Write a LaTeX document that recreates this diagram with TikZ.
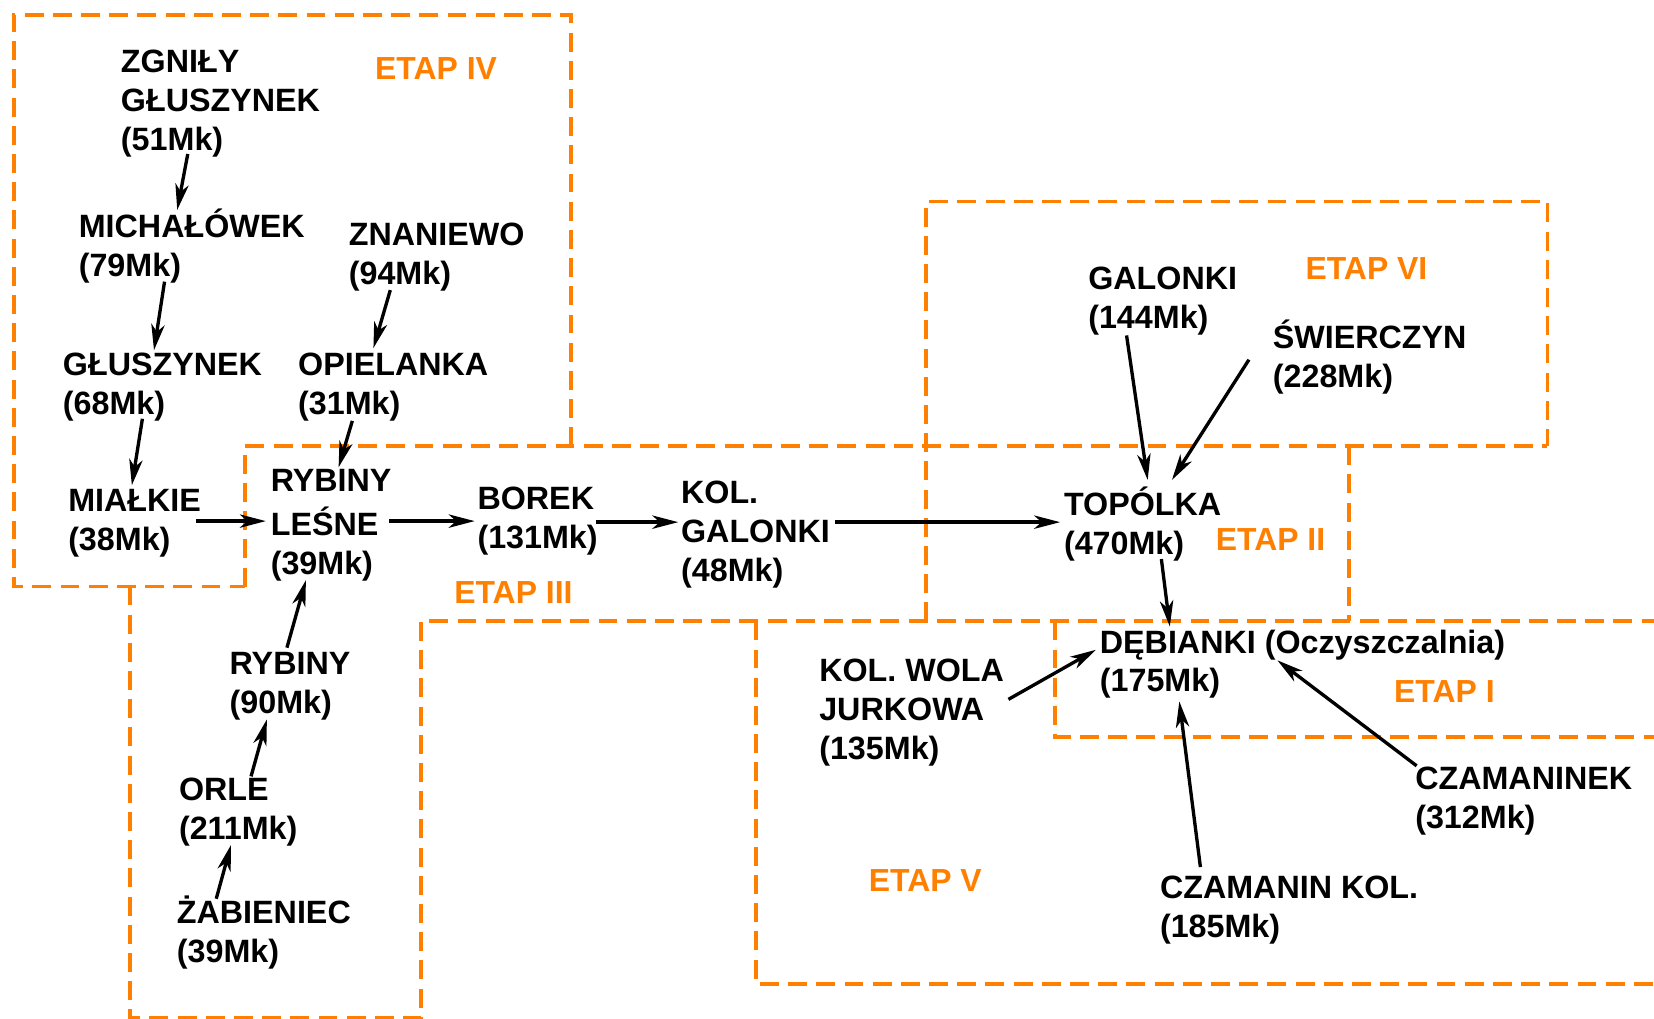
\documentclass[tikz,border=0pt]{standalone}
\usepackage{fontspec}
\setmainfont{Liberation Sans}
\usepackage{xcolor}
\usepackage{tikz}
\usetikzlibrary{calc}
\usetikzlibrary{arrows.meta}
\definecolor{etaporange}{RGB}{255,128,0}

\begin{document}
\begin{tikzpicture}[x=0.01cm, y=-0.01cm]
            \tikzset{etap/.style = {etaporange, line width=1pt, dash pattern=on 5.1pt off 2.5pt}}
            \tikzset{etaplabel/.style = {etaporange, anchor=base west, inner sep=0pt, font=\fontsize{8.6pt}{10.5pt}\selectfont\bfseries}}
            \tikzset{place/.style = {anchor=base west, align=left, inner sep=0pt, font=\fontsize{8.7pt}{10.5pt}\selectfont\bfseries}}
            \tikzset{flow/.style = {line width=0.9pt, -{Stealth[length=7pt, width=3.6pt, inset=2pt]}}}

            \useasboundingbox (0,0) rectangle (1568,966);

            % stage borders
            \draw[etap] (541,423) -- (541,14) -- (13,14) -- (13,556) -- (232,556);
            \draw[etap] (232,556) -- (232,423) -- (1467,423);
            \draw[etap] (123,556) -- (123,965) -- (399,965) -- (399,589) -- (1568,589);
            \draw[etap] (878,589) -- (878,191) -- (1467,191) -- (1467,423);
            \draw[etap] (1279,423) -- (1279,589);
            \draw[etap] (717,589) -- (717,933) -- (1568,933);
            \draw[etap] (1000,589) -- (1000,699) -- (1568,699);

            \node[etaplabel] (etapIV) at (355,75) {ETAP IV};
            \node[etaplabel] (etapIII) at (430,572) {ETAP III};
            \node[etaplabel] (etapVI) at (1237,265) {ETAP VI};
            \node[etaplabel] (etapII) at (1152,522) {ETAP II};
            \node[etaplabel] (etapI) at (1321,666) {ETAP I};
            \node[etaplabel] (etapV) at (823,845) {ETAP V};

            % places (anchored at the last line)
            \node[place] (zgnily) at (114,143) {ZGNIŁY\\GŁUSZYNEK\\(51Mk)};
            \node[place] (michalowek) at (74,262) {MICHAŁÓWEK\\(79Mk)};
            \node[place] (znaniewo) at (330,270) {ZNANIEWO\\(94Mk)};
            \node[place] (gluszynek) at (59,393) {GŁUSZYNEK\\(68Mk)};
            \node[place] (opielanka) at (282,393) {OPIELANKA\\(31Mk)};
            \node[place] (mialkie) at (64,522) {MIAŁKIE\\(38Mk)};
            \node[place] (rybinyl) at (256,545) {RYBINY\\[1.5pt]LEŚNE\\(39Mk)};
            \node[place] (borek) at (452,520) {BOREK\\(131Mk)};
            \node[place] (kolgalonki) at (645,551) {KOL.\\GALONKI\\(48Mk)};
            \node[place] (rybiny) at (217,676) {RYBINY\\(90Mk)};
            \node[place] (orle) at (169,796) {ORLE\\(211Mk)};
            \node[place] (zabieniec) at (167,912) {ŻABIENIEC\\(39Mk)};
            \node[place] (galonki) at (1031,311) {GALONKI\\(144Mk)};
            \node[place] (swierczyn) at (1206,367) {ŚWIERCZYN\\(228Mk)};
            \node[place] (topolka) at (1008,526) {TOPÓLKA\\(470Mk)};
            \node[place] (debianki) at (1042,656) {DĘBIANKI (Oczyszczalnia)\\(175Mk)};
            \node[place] (kolwola) at (776,720) {KOL. WOLA\\JURKOWA\\(135Mk)};
            \node[place] (czamaninek) at (1341,785) {CZAMANINEK\\(312Mk)};
            \node[place] (czamaninkol) at (1099,889) {CZAMANIN KOL.\\(185Mk)};

            % flows
            \draw[flow] ($ (zgnily.base west) + (64,3) $) -- ($ (michalowek.base west) + (94,-63) $);
            \draw[flow] ($ (michalowek.base west) + (82,5) $) -- ($ (gluszynek.base west) + (87,-61) $);
            \draw[flow] ($ (gluszynek.base west) + (76,4) $) -- ($ (mialkie.base west) + (61,-62) $);
            \draw[flow] ($ (znaniewo.base west) + (40,5) $) -- ($ (opielanka.base west) + (72,-63) $);
            \draw[flow] ($ (opielanka.base west) + (52,6) $) -- ($ (rybinyl.base west) + (65,-102) $);
            \draw[flow] ($ (mialkie.base west) + (122,-28) $) -- ($ (rybinyl.base west) + (-4,-51) $);
            \draw[flow] ($ (rybinyl.base west) + (113,-51) $) -- ($ (borek.base west) + (-2,-26) $);
            \draw[flow] ($ (borek.base west) + (113,-25) $) -- ($ (kolgalonki.base west) + (-2,-56) $);
            \draw[flow] ($ (kolgalonki.base west) + (147,-56) $) -- ($ (topolka.base west) + (-3,-31) $);
            \draw[flow] ($ (rybiny.base west) + (55,-62) $) -- ($ (rybinyl.base west) + (34,5) $);
            \draw[flow] ($ (orle.base west) + (69,-60) $) -- ($ (rybiny.base west) + (36,6) $);
            \draw[flow] ($ (zabieniec.base west) + (38,-60) $) -- ($ (orle.base west) + (50,5) $);
            \draw[flow] ($ (galonki.base west) + (37,7) $) -- ($ (topolka.base west) + (80,-71) $);
            \draw[flow] ($ (swierczyn.base west) + (-22,-26) $) -- ($ (topolka.base west) + (103,-71) $);
            \draw[flow] ($ (topolka.base west) + (93,4) $) -- ($ (debianki.base west) + (67,-62) $);
            \draw[flow] ($ (kolwola.base west) + (180,-57) $) -- ($ (debianki.base west) + (-3,-40) $);
            \draw[flow] ($ (czamaninek.base west) + (2,-59) $) -- ($ (debianki.base west) + (169,-30) $);
            \draw[flow] ($ (czamaninkol.base west) + (39,-67) $) -- ($ (debianki.base west) + (76,9) $);

        \end{tikzpicture}
\end{document}
